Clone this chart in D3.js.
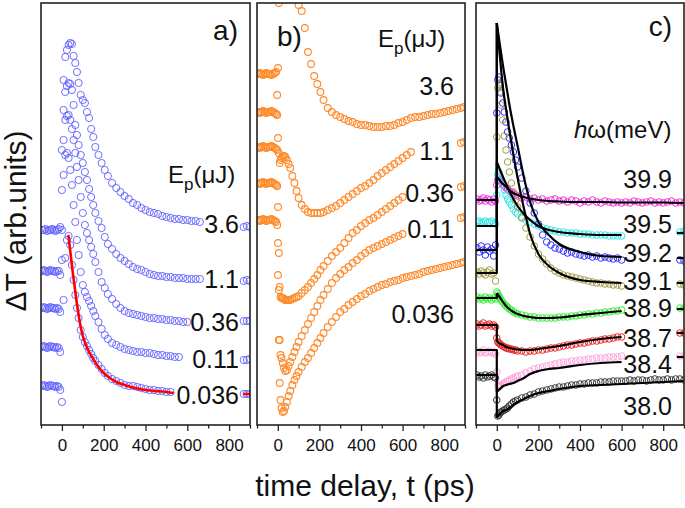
<!DOCTYPE html>
<html><head><meta charset="utf-8">
<script src="https://cdn.jsdelivr.net/npm/d3@7"></script>
<style>body{margin:0;background:#fff} svg{display:block} text{font-family:"Liberation Sans",Arial,Helvetica,sans-serif;fill:#111}</style>
</head><body><svg id="c" width="685" height="508"></svg>
<script>
// ---------- DATA (time in ps, ΔT in arbitrary units) ----------
const xTicksMajor = [0,200,400,600,800];
const xTicksMinor = [-100,100,300,500,700,900];

// Panel a
const tA = [-95,-87,-79,-71,-63,-55,-47,-39,-31,-23,-15,-8,
 0,8,16,24,32,40,48,56,64,72,80,90,100,110,120,130,140,150,160,
 175,190,205,220,240,260,280,300,320,340,360,380,400,420,440,460,480,500,520,540,560,580,600,620,640,660,
 870,885,898];
const a_3_6 = [195,195,196,194,195,195,196,195,194,195,196,198,
 275,345,368,375,380,382,381,369,362,353,342,330,325,322,313,307,296,288,278,
 270,262,255,249,242,237,233,229,226,222,220,217,215,213,212,211,209,208,207,206,206,205,205,204,204,203,
 198,199,198];
const a_1_1 = [154,155,154,153,154,155,154,154,153,154,154,150,
 235,315,333,339,342,341,335,320,300,290,280,270,262,253,245,236,228,220,212,
 204,197,188,181,176,171,167,164,161,158,156,155,153,151,150,149,149,148,148,147,147,147,146,146,146,146,
 144,145,144];
const a_0_36 = [117,118,117,116,117,118,117,117,116,117,116,113,
 195,285,305,309,310,305,296,285,272,258,245,228,212,200,192,185,178,171,163,
 153,143,137,131,126,121,117,114,112,111,110,109,108,107,107,106,106,105,105,104,104,103,103,null,null,null,
 104,104,104];
const a_0_11 = [78,79,78,77,78,79,78,78,77,78,77,73,
 165,250,270,272,267,255,240,220,203,185,170,153,140,133,128,124,119,114,109,
 103,96,90,86,82,80,78,76,75,74,73,73,72,72,71,70,70,69,69,68,68,null,null,null,null,null,
 65,65,66];
const a_0_036 = [39,40,39,38,39,40,39,39,38,39,38,35,
 23,125,167,185,189,180,160,145,130,117,107,95,88,83,79,75,71,67,64,
 60,56,52,49,46,44,42,40,39,39,38,37,36,35,35,34,34,33,33,null,null,null,null,null,null,null,
 31,31,31];
const fitA_t = [31,40,50,60,70,80,90,100,115,130,150,175,200,230,260,300,350,400,450,500,535];
const fitA_v = [190,174,156,140,124,110,98,89,80,73,66,58,52,47,43,40,37,35,34,33,32];
const fitA_farT = [866,900];
const fitA_farV = [31,31];
const labelsA = ["3.6","1.1","0.36","0.11","0.036"];

// Panel b
const tB = [-95,-87,-79,-71,-63,-55,-47,-39,-31,-23,-15,-8,
 -3,1,5,9,13,18,24,30,36,44,52,60,70,80,90,100,
 115,130,145,160,175,190,205,220,240,260,280,300,320,340,360,380,400,420,440,460,480,500,520,540,560,580,600,620,640,660,
 680,700,720,740,760,780,800,820,840,860,880,895];
const b_3_6 = [351,352,351,350,351,352,351,351,350,351,352,353,
 330,357,422,null,null,null,null,null,null,null,null,null,null,null,null,420,
 414,397,373,361,349,341,333,325,317,313,310,308,306,304,303,301,300,300,299,298,298,298,299,299,300,302,303,305,307,308,
 308,309,310,311,311,312,313,314,315,316,317,318];
const b_1_1 = [313,312,313,314,313,312,313,313,314,313,312,311,
 310,287,272,262,265,267,269,269,268,265,261,257,249,242,234,227,
 220,216,213,212,212,212,212,213,215,217,219,222,225,228,231,234,237,239,242,245,249,252,255,258,261,264,267,270,273,null,
 null,null,null,null,null,null,null,null,null,null,282,283];
const b_0_36 = [278,277,278,279,278,277,278,278,279,278,277,276,
 275,218,172,138,128,127,127,126,125,125,125,125,126,127,128,129,
 132,135,138,142,146,150,155,159,164,169,173,177,182,187,192,195,199,202,205,207,210,213,216,219,222,225,228,null,null,null,
 null,null,null,null,null,null,null,null,null,null,238,239];
const b_0_11 = [242,241,242,243,242,241,242,242,243,242,241,240,
 239,182,135,85,70,67,62,57,54,55,59,63,68,73,78,83,
 89,95,101,107,113,119,125,130,136,142,147,151,155,158,162,165,169,172,175,177,179,181,183,185,187,189,191,null,null,null,
 null,null,null,null,null,null,null,null,null,null,207,208];
const b_0_036 = [205,204,205,206,205,204,205,205,206,205,204,203,
 200,150,85,42,25,17,13,14,18,23,29,34,40,45,49,53,
 58,63,67,72,77,82,87,92,98,103,108,113,116,120,123,126,129,131,134,136,138,140,141,143,144,145,147,148,149,150,
 151,153,154,155,156,157,158,159,160,161,162,163];
const labelsB = ["3.6","1.1","0.36","0.11","0.036"];

// Panel c
const tC = [-95,-85,-75,-65,-55,-45,-35,-25,-15,-6,
 0,5,10,15,20,28,36,44,52,60,70,80,90,
 100,120,140,160,180,200,220,240,260,280,300,320,340,360,380,400,420,440,460,480,500,520,540,560,580,600,
 620,640,660,680,700,720,740,760,780,800,820,840,860,880,900];
const c_39_9 = [226,224,225,227,224,226,225,223,226,224,
 240,245,247,245,243,241,239,237,236,234,233,231,230,
 229,227,228,226,227,225,226,224,225,226,224,225,223,225,224,222,224,223,225,223,222,224,223,222,223,222,
 223,222,224,223,222,223,224,222,223,222,223,224,222,223,222];
const c_39_5 = [203,204,202,203,204,202,203,204,202,201,
 230,250,252,249,245,240,235,230,226,223,220,216,213,
 211,208,205,203,201,199,197,196,195,194,193,193,192,192,192,191,191,191,190,190,190,190,189,189,189,189,
 null,null,null,null,null,null,null,null,null,null,null,null,null,193,194];
const c_39_2 = [177,173,179,175,170,178,174,176,169,180,
 312,345,348,340,332,322,313,303,293,287,280,273,265,
 258,247,234,222,212,201,190,183,180,177,176,174,172,173,171,170,169,170,168,169,167,168,167,166,167,165,
 null,null,null,null,null,null,null,null,null,null,null,null,null,165,164];
const c_39_1 = [153,151,154,152,150,153,155,151,152,144,
 288,337,341,333,320,305,289,275,263,253,242,233,225,
 218,207,197,188,179,171,166,161,157,154,152,150,149,148,147,146,145,144,143,142,142,141,141,140,140,139,
 null,null,null,null,null,null,null,null,null,null,null,null,null,141,140];
const c_38_9 = [128,126,127,125,128,126,127,125,127,126,
 133,131,129,127,125,123,121,119,118,116,115,113,112,
 111,110,109,108,108,107,107,107,107,107,108,108,108,109,109,110,110,111,111,112,112,113,113,114,114,115,
 null,null,null,null,null,null,null,null,null,null,null,null,null,117,117];
const c_38_7 = [101,99,100,102,99,100,101,99,100,98,
 87,83,82,81,80,79,78,77,77,76,76,75,75,
 74,74,73,74,74,75,75,76,77,77,78,79,80,80,81,82,82,83,84,84,85,86,86,87,88,88,
 null,null,null,null,null,null,null,null,null,null,null,null,null,92,92];
const c_38_4 = [74,72,73,75,72,73,74,72,73,71,
 53,40,38,39,40,41,42,43,44,45,46,47,48,
 49,50,52,54,56,57,58,59,60,61,62,63,63,64,64,65,65,66,66,67,67,67,68,68,68,69,
 null,null,null,null,null,null,null,null,null,null,null,null,null,69,69];
const c_38_0 = [50,48,49,47,50,48,49,50,48,47,
 25,9,10,12,13,14,15,16,17,19,21,23,24,
 25,27,28,30,31,33,34,35,36,37,38,38,39,40,40,41,41,42,42,42,43,43,43,44,44,44,
 44,45,44,45,45,44,45,46,45,45,46,45,46,46,45];
// fits for panel c: pre-zero level, then decay on fitT
const fitT = [0,10,20,30,45,60,80,100,130,160,200,250,300,400,500,600];
const fitContT = [700,800,900];
const fitFarT = [866,900];
const fit_39_9 = {base:225, v:[248,246,243,241,238,235,232,230,228,226.5,225,224,223.5,223,223,222.5], cont:[222.5,222.5,222]};
const fit_39_5 = {base:199, v:[263,258,253,248,241,234,226,219,211,205,199,195,193,191,190,190], far:192};
const fit_39_2 = {base:175, v:[402,387,373,359,340,321,299,279,248,223,203,190,181,173,169,168], far:167};
const fit_39_1 = {base:152, v:[402,379,357,337,315,295,270,247,217,191,171,159,152,145,143,142], far:142};
const fit_38_9 = {base:127, v:[132,129,126,123,119,116,113,111,109,108,107,107,107.5,110,112,114], far:116};
const fit_38_7 = {base:100, v:[84,82,81,80,78,77,76,75.5,75,75,76,77.5,79,83,86,88], far:92};
const fit_38_4 = {base:75, v:[33,35,37,39,40,41,42,44,47,51,54,56,57,60,62,63], far:68};
const fit_38_0 = {base:50, v:[7,10,12,14,15,17,20,23,26,29,32,34,36,39,40,41], cont:[42,43,44]};
const labelsC = ["39.9","39.5","39.2","39.1","38.9","38.7","38.4","38.0"];

// ---------- DRAWING ----------
const svg = d3.select("#c");
const TOP = 3, BOT = 425;
const y = d3.scaleLinear().domain([0,422]).range([BOT, TOP]);
const panels = [{x0:41,x1:250},{x0:257,x1:465},{x0:476,x1:684}];
const xs = panels.map(p => d3.scaleLinear().domain([-100,900]).range([p.x0,p.x1]));
const defs = svg.append("defs");
panels.forEach((p,i)=>{
  defs.append("clipPath").attr("id","clip"+i).append("rect")
    .attr("x",p.x0).attr("y",TOP).attr("width",p.x1-p.x0).attr("height",BOT-TOP);
});
const layers = panels.map((p,i)=>svg.append("g").attr("clip-path",`url(#clip${i})`));

function dots(g, x, t, v, color, r, sw){
  const pts = t.map((tt,i)=>[tt,v[i]]).filter(d=>d[1]!==null);
  g.append("g").selectAll("circle").data(pts).join("circle")
    .attr("cx",d=>x(d[0])).attr("cy",d=>y(d[1])).attr("r",r)
    .attr("fill","none").attr("stroke",color).attr("stroke-width",sw);
}
function line(g, x, pts, color, w, curve){
  g.append("path").attr("d", d3.line().x(d=>x(d[0])).y(d=>y(d[1])).curve(curve||d3.curveLinear)(pts))
    .attr("fill","none").attr("stroke",color).attr("stroke-width",w).attr("stroke-linejoin","round");
}

// Panel a
const blue = "#5f5fff";
[a_3_6,a_1_1,a_0_36,a_0_11,a_0_036].forEach(s=>dots(layers[0], xs[0], tA, s, blue, 3.6, 0.9));
line(layers[0], xs[0], fitA_t.map((t,i)=>[t,fitA_v[i]]), "#f00", 2.6, d3.curveMonotoneX);
line(layers[0], xs[0], fitA_farT.map((t,i)=>[t,fitA_farV[i]]), "#f00", 2.6);

// Panel b
const orange = "#ff8a2a";
[b_3_6,b_1_1,b_0_36,b_0_11,b_0_036].forEach(s=>dots(layers[1], xs[1], tB, s, orange, 3.4, 1.1));

// Panel c
const cSeries = [
  {d:c_39_9, c:"#f22ee0", f:fit_39_9},
  {d:c_39_5, c:"#2ee6ea", f:fit_39_5},
  {d:c_39_2, c:"#3030ff", f:fit_39_2},
  {d:c_39_1, c:"#a39c45", f:fit_39_1},
  {d:c_38_9, c:"#33ee33", f:fit_38_9},
  {d:c_38_7, c:"#ee2222", f:fit_38_7},
  {d:c_38_4, c:"#ffa3dc", f:fit_38_4},
  {d:c_38_0, c:"#3a3a3a", f:fit_38_0}
];
cSeries.forEach(s=>dots(layers[2], xs[2], tC, s.d, s.c, 3.3, 1.0));
cSeries.forEach(s=>{
  const f = s.f;
  line(layers[2], xs[2], [[-100,f.base],[0,f.base],[0,f.v[0]]], "#000", 2.2);
  let pts = fitT.map((t,i)=>[t,f.v[i]]);
  if (f.cont) pts = pts.concat(fitContT.map((t,i)=>[t,f.cont[i]]));
  line(layers[2], xs[2], pts, "#000", 2.2, d3.curveMonotoneX);
  if (f.far!==undefined) line(layers[2], xs[2], fitFarT.map(t=>[t,f.far]), "#000", 2.2);
});

// Frames and axes
panels.forEach((p,i)=>{
  svg.append("rect").attr("x",p.x0).attr("y",TOP).attr("width",p.x1-p.x0).attr("height",BOT-TOP)
    .attr("fill","none").attr("stroke","#222").attr("stroke-width",1.6);
  const gM = svg.append("g").attr("transform",`translate(0,${BOT})`)
    .call(d3.axisBottom(xs[i]).tickValues(xTicksMajor).tickSize(6).tickPadding(8).tickFormat(d3.format("d")));
  gM.select(".domain").remove();
  gM.selectAll("line").attr("stroke","#222").attr("stroke-width",1.3);
  gM.selectAll("text").attr("font-size",17).attr("fill","#111")
    .style("font-family",'"Liberation Sans",Arial,sans-serif');
  const gm = svg.append("g").attr("transform",`translate(0,${BOT})`)
    .call(d3.axisBottom(xs[i]).tickValues(xTicksMinor).tickSize(3.5).tickFormat(""));
  gm.select(".domain").remove();
  gm.selectAll("line").attr("stroke","#222").attr("stroke-width",1.3);
});

// Series labels
function labels(arr, xEnd, baselines){
  arr.forEach((s,i)=>svg.append("text").attr("x",xEnd).attr("y",baselines[i])
    .attr("text-anchor","end").attr("font-size",25).text(s));
}
labels(labelsA, 239, [233,288,331,368,404]);
labels(labelsB, 454, [95,160,202,238,323]);
labels(labelsC, 672, [188,233,262,290,317,347,373,415]);

// Panel letters
svg.append("text").attr("x",238).attr("y",40).attr("text-anchor","end").attr("font-size",28).text("a)");
svg.append("text").attr("x",277).attr("y",46).attr("font-size",28).text("b)");
svg.append("text").attr("x",672).attr("y",36).attr("text-anchor","end").attr("font-size",28).text("c)");

// Legend titles
function epTitle(x, yb){
  const t = svg.append("text").attr("x",x).attr("y",yb).attr("font-size",24);
  t.append("tspan").text("E");
  t.append("tspan").attr("font-size",17).attr("dy",7).text("p");
  t.append("tspan").attr("dy",-7).text("(μJ)");
}
epTitle(168,183);
epTitle(378,47);
const hw = svg.append("text").attr("x",574).attr("y",138).attr("font-size",24);
hw.append("tspan").attr("font-style","italic").text("h");
hw.append("tspan").text("ω(meV)");

// Axis titles
svg.append("text").attr("transform","translate(26,221) rotate(-90)").attr("text-anchor","middle")
  .attr("font-size",30).text("ΔT (arb.units)");
svg.append("text").attr("x",365).attr("y",496).attr("text-anchor","middle")
  .attr("font-size",30).text("time delay, t (ps)");
</script></body></html>
